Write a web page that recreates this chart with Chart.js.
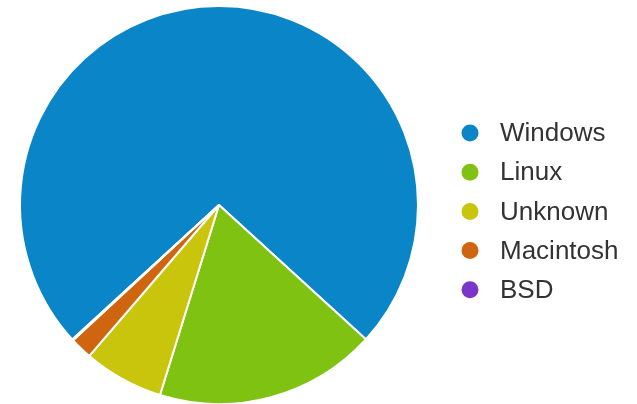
<!DOCTYPE html>
<html>
<head>
<meta charset="utf-8">
<script src="https://cdn.jsdelivr.net/npm/chart.js@4"></script>
<style>
  html, body { margin: 0; padding: 0; background: #fff; }
  #wrap { width: 637px; height: 404px; position: relative; }
</style>
</head>
<body>
<div id="wrap"><canvas id="pie"></canvas></div>
<script>
// ─── DATA ────────────────────────────────────────────
const osLabels = ['Windows', 'Linux', 'Unknown', 'Macintosh', 'BSD'];
const osShare  = [73.6, 18.0, 6.5, 1.8, 0.1];
const osColors = ['#0a85c8', '#7fc212', '#c9c40c', '#cf650f', '#7b36c9'];

// ─── LEGEND (drawn on the canvas) ────────────────────
const sideLegend = {
  id: 'sideLegend',
  afterDraw(chart) {
    const ctx = chart.ctx;
    const ds = chart.data.datasets[0];
    const x0 = 470, y0 = 133, step = 39.2;
    ctx.save();
    ctx.font = '26px "Liberation Sans", Arial, sans-serif';
    ctx.textBaseline = 'middle';
    chart.data.labels.forEach((lab, i) => {
      const y = y0 + i * step;
      ctx.beginPath();
      ctx.arc(x0, y, 8.5, 0, Math.PI * 2);
      ctx.fillStyle = ds.backgroundColor[i];
      ctx.fill();
      ctx.fillStyle = '#333333';
      ctx.fillText(lab, 500, y + 1);
    });
    ctx.restore();
  }
};

new Chart(document.getElementById('pie'), {
  type: 'pie',
  data: {
    labels: osLabels,
    datasets: [{
      data: osShare,
      backgroundColor: osColors,
      borderColor: '#ffffff',
      borderWidth: 2
    }]
  },
  options: {
    responsive: true,
    maintainAspectRatio: false,
    animation: false,
    rotation: -132.5,
    radius: 199,
    layout: { padding: { left: 0, right: 199, top: 6, bottom: 0 } },
    plugins: {
      legend: { display: false },
      tooltip: { enabled: false }
    }
  },
  plugins: [sideLegend]
});
</script>
</body>
</html>
